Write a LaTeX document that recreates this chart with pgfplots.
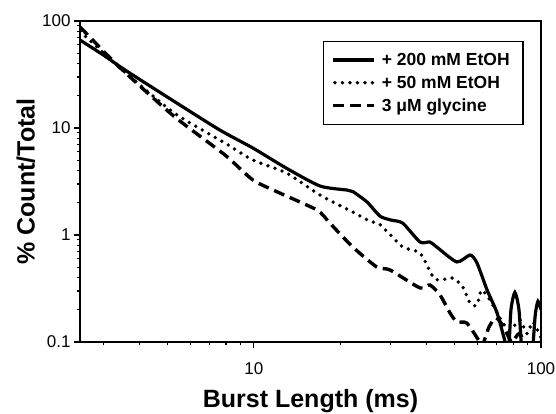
\documentclass[border=0pt]{standalone}
\usepackage{pgfplots}
\pgfplotsset{compat=1.18}
\usepackage{fontspec}
\setmainfont{Liberation Sans}
\pgfplotsset{
  longleg/.style={legend image code/.code={\draw[##1] (0pt,0pt) -- (41pt,0pt);}},
  dotleg/.style={legend image code/.code={\draw[##1] (2pt,0pt) -- (41pt,0pt);}},
}
\begin{document}
\begin{tikzpicture}
\begin{axis}[
  at={(0,0)}, anchor=south west,
  scale only axis, width=461pt, height=321pt,
  xmode=log, ymode=log,
  xmin=2.48, xmax=100, ymin=0.1, ymax=100,
  xtick={10,100}, xticklabels={10,100},
  ytick={0.1,1,10,100}, yticklabels={0.1,1,10,100},
  minor xtick={3,4,5,6,7,8,9,20,30,40,50,60,70,80,90},
  minor ytick={0.2,0.3,0.4,0.5,0.6,0.7,0.8,0.9,2,3,4,5,6,7,8,9,20,30,40,50,60,70,80,90},
  tick pos=left,
  tick align=outside,
  major tick length=6pt, minor tick length=3.5pt,
  every tick/.style={black, line width=1.2pt},
  axis line style={line width=1.5pt},
  ticklabel style={font=\fontsize{17}{20}\selectfont},
  xticklabel style={yshift=-11pt},
  /pgf/number format/assume math mode=true,
  xlabel={Burst Length (ms)}, ylabel={\% Count/Total},
  label style={font=\bfseries\fontsize{25}{30}\selectfont},
  xlabel style={yshift=-8pt},
  legend style={at={(0.963,0.938)}, anchor=north east, draw=black, line width=1.5pt,
    font=\bfseries\fontsize{17.5}{20}\selectfont, row sep=6pt, inner xsep=7.5pt, inner ysep=10pt,
    nodes={inner xsep=6pt, inner ysep=1.5pt}},
  legend cell align=left,
  clip=true,
]
\addplot[black, line width=3.2pt, smooth, tension=0.4, longleg] coordinates {
(2.48,66.4)(3.0,47.8)(3.55,35)(5.3,17.6)(7.61,9.57)(9.92,6.5)(13.0,4.2)(17.0,2.87)(21.1,2.63)(22.1,2.55)(24.8,2.03)(27.5,1.50)(30,1.38)(33.0,1.29)(37.9,0.86)(41.0,0.86)(43.4,0.77)(50.9,0.56)(56.6,0.65)(59.8,0.55)(64.9,0.306)(70.3,0.187)(75,0.1)(77,0.075)(78.6,0.2)(81.1,0.29)(83.8,0.2)(86,0.075)(89,0.06)(93,0.075)(95.5,0.18)(97.6,0.24)(100,0.2)
};
\addlegendentry{+ 200 mM EtOH}
\addplot[black, line width=3.8pt, line cap=round, dash pattern=on 0pt off 7.5pt, smooth, tension=0.4, dotleg] coordinates {
(2.48,80)(3.0,50)(3.55,33.3)(5.3,13.7)(7.93,7.24)(9.92,5.02)(13.0,3.79)(17.0,2.36)(22.1,1.64)(25.4,1.34)(27.5,1.25)(33.0,0.773)(37.9,0.679)(42.1,0.405)(44.5,0.379)(49.3,0.396)(53.4,0.327)(56.6,0.231)(59.8,0.22)(62.2,0.306)(67.4,0.231)(70.3,0.187)(73.8,0.15)(78,0.129)(84.5,0.16)(89.4,0.12)(93.7,0.154)(100,0.11)
};
\addlegendentry{+ 50 mM EtOH}
\addplot[black, line width=3.4pt, dash pattern=on 11pt off 6pt, smooth, tension=0.4, longleg] coordinates {
(2.48,88)(3.0,52)(3.55,33.3)(5.3,12.7)(7.93,5.6)(9.92,3.27)(12.3,2.47)(16.6,1.71)(18.4,1.29)(22.1,0.773)(26.8,0.502)(29.8,0.471)(37.9,0.32)(41.0,0.341)(44.5,0.275)(48.2,0.187)(50.9,0.154)(55.2,0.15)(61.2,0.1)(62.5,0.092)(65.9,0.138)(69.7,0.168)(74,0.14)(79,0.1)(84,0.12)(90,0.09)(100,0.1)
};
\addlegendentry{3 μM glycine}
\end{axis}
\pgfresetboundingbox
\useasboundingbox (-80pt,-72pt) rectangle (476pt,342pt);
\end{tikzpicture}
\end{document}
